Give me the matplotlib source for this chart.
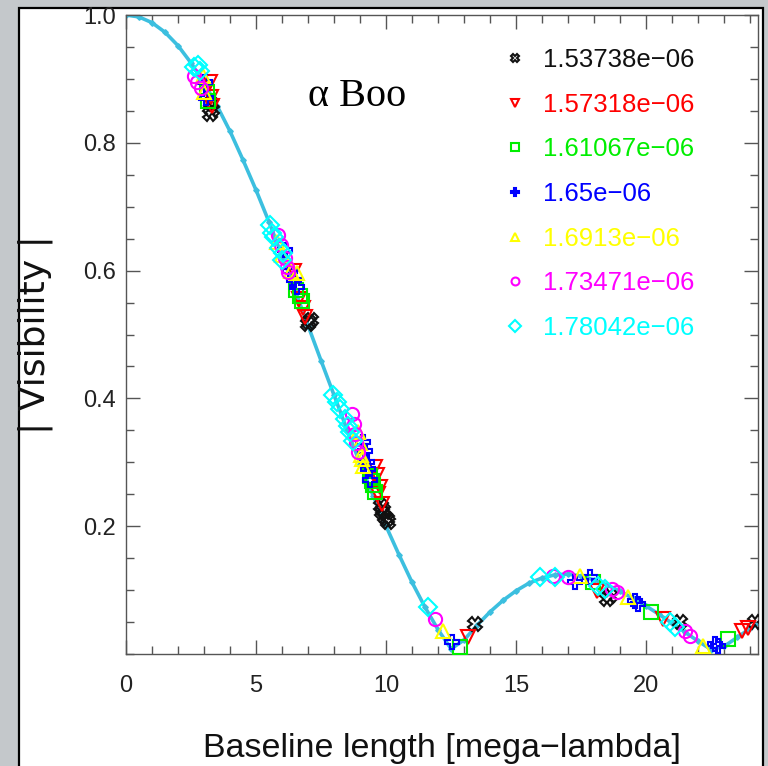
import matplotlib
matplotlib.use("Agg")
import matplotlib.pyplot as plt
from matplotlib.patches import Rectangle
from matplotlib.ticker import MultipleLocator, FixedLocator, FormatStrFormatter

# uniform-disk style model curve, |V| vs baseline (mega-lambda)
model_x = [0.0, 0.5, 1.0, 1.5, 2.0, 2.5, 3.0, 3.5, 4.0, 4.5, 5.0, 5.5, 6.0, 6.5,
           7.0, 7.5, 8.0, 8.5, 9.0, 9.5, 10.0, 10.5, 11.0, 11.5, 12.0, 12.5,
           13.0, 13.5, 14.0, 14.5, 15.0, 15.5, 16.0, 16.5, 17.0, 17.5, 18.0,
           18.5, 19.0, 19.5, 20.0, 20.5, 21.0, 21.5, 22.0, 22.5, 23.0, 23.5,
           24.0, 24.5]
model_v = [1.000, 0.997, 0.988, 0.973, 0.952, 0.925, 0.894, 0.858, 0.818, 0.773,
           0.726, 0.676, 0.623, 0.569, 0.514, 0.459, 0.405, 0.351, 0.298, 0.248,
           0.200, 0.155, 0.112, 0.073, 0.038, 0.008, 0.022, 0.045, 0.066, 0.084,
           0.099, 0.111, 0.119, 0.124, 0.125, 0.122, 0.116, 0.108, 0.098, 0.087,
           0.075, 0.062, 0.048, 0.034, 0.020, 0.007, 0.012, 0.026, 0.040, 0.052]

# measured visibilities per wavelength channel
wavelengths = ["1.53738e\u221206", "1.57318e\u221206", "1.61067e\u221206", "1.65e\u221206",
               "1.6913e\u221206", "1.73471e\u221206", "1.78042e\u221206"]

black_x = [3.22, 3.28, 3.30, 7.00, 7.05, 7.12, 9.80, 9.85, 9.90, 9.95, 10.02, 10.08,
           13.42, 18.50, 18.62, 21.30, 24.20]
black_v = [0.845, 0.862, 0.852, 0.516, 0.520, 0.523, 0.232, 0.222, 0.225, 0.215, 0.212, 0.206,
           0.047, 0.086, 0.090, 0.050, 0.050]

red_x = [3.22, 3.26, 3.32, 6.45, 6.65, 6.80, 6.88, 9.58, 9.65, 9.70, 9.75, 9.85,
         13.15, 18.10, 20.65, 23.70, 23.90]
red_v = [0.895, 0.872, 0.858, 0.600, 0.556, 0.542, 0.528, 0.292, 0.280, 0.250, 0.262, 0.234,
         0.027, 0.098, 0.055, 0.036, 0.040]

green_x = [3.12, 3.15, 6.55, 6.70, 6.75, 9.38, 9.45, 9.50, 9.58, 12.85, 17.96, 20.20, 23.15]
green_v = [0.880, 0.865, 0.570, 0.560, 0.552, 0.278, 0.270, 0.265, 0.253, 0.011, 0.112, 0.066, 0.023]

blue_x = [3.05, 3.08, 6.10, 6.30, 6.45, 6.57, 9.12, 9.18, 9.25, 9.30, 9.38, 12.54,
          17.27, 17.85, 19.58, 19.70, 22.65, 22.75]
blue_v = [0.895, 0.870, 0.633, 0.600, 0.585, 0.575, 0.331, 0.318, 0.300, 0.290, 0.273, 0.019,
          0.112, 0.120, 0.083, 0.078, 0.016, 0.013]

yellow_x = [2.95, 3.00, 5.80, 6.00, 6.35, 6.57, 8.92, 8.98, 9.05, 9.08, 9.12, 12.20,
            17.46, 19.30, 22.20]
yellow_v = [0.905, 0.880, 0.644, 0.625, 0.600, 0.597, 0.347, 0.330, 0.312, 0.305, 0.294, 0.036,
            0.122, 0.089, 0.012]

magenta_x = [2.60, 2.72, 2.90, 5.85, 5.95, 6.10, 6.18, 6.24, 8.69, 8.75, 8.80, 8.85, 8.92,
             11.88, 16.42, 17.00, 18.70, 18.88, 21.50, 21.70]
magenta_v = [0.905, 0.895, 0.886, 0.656, 0.640, 0.620, 0.606, 0.598, 0.375, 0.360, 0.345, 0.330, 0.316,
             0.055, 0.122, 0.120, 0.101, 0.097, 0.036, 0.028]

cyan_x = [2.62, 2.75, 2.85, 5.54, 5.60, 5.70, 5.90, 6.00, 6.05, 7.96, 8.10, 8.23, 8.42,
          8.52, 8.62, 8.73, 11.62, 15.92, 16.50, 18.15, 18.42, 20.92, 21.10]
cyan_v = [0.918, 0.922, 0.912, 0.672, 0.659, 0.652, 0.635, 0.617, 0.628, 0.406, 0.395, 0.383, 0.367,
          0.357, 0.347, 0.333, 0.073, 0.120, 0.120, 0.106, 0.101, 0.050, 0.042]

series_x = [black_x, red_x, green_x, blue_x, yellow_x, magenta_x, cyan_x]
series_v = [black_v, red_v, green_v, blue_v, yellow_v, magenta_v, cyan_v]
colors = ["#111111", "#ff0000", "#00ee00", "#0000ff", "#ffff00", "#ff00ff", "#00ffff"]
markers = ["X", "v", "s", "P", "^", "o", "D"]

plt.rcParams["font.family"] = ["Liberation Sans", "DejaVu Sans"]

fig = plt.figure(figsize=(7.68, 7.66), dpi=100, facecolor="#c4c8cb")
# white panel with black frame
panel = Rectangle((19 / 768, -0.01), (763 - 19) / 768, 1.01 - 8 / 766,
                  transform=fig.transFigure, facecolor="white",
                  edgecolor="black", linewidth=1.6, zorder=-10)
fig.add_artist(panel)

ax = fig.add_axes([126 / 768, (766 - 654) / 766, 632 / 768, 639 / 766])
ax.set_facecolor("white")
ax.set_zorder(1)

ax.plot(model_x, model_v, color="#3cbfdf", lw=2.6, marker="D", ms=2.8, zorder=2)

for xs, vs, c, m, lab in zip(series_x, series_v, colors, markers, wavelengths):
    ax.plot(xs, vs, linestyle="none", marker=m, ms=9.5, mfc="none", mec=c,
            mew=1.5, color=c, label=lab, zorder=3)

ax.set_xlim(0, 24.3)
ax.set_ylim(0, 1.0)
ax.xaxis.set_major_locator(FixedLocator([0, 5, 10, 15, 20]))
ax.xaxis.set_minor_locator(MultipleLocator(1))
ax.yaxis.set_major_locator(FixedLocator([0.2, 0.4, 0.6, 0.8, 1.0]))
ax.yaxis.set_minor_locator(MultipleLocator(0.05))
ax.yaxis.set_major_formatter(FormatStrFormatter("%.1f"))
ax.tick_params(which="both", direction="in", top=True, right=True, color="#555555",
               width=1.0, labelsize=17, labelcolor="#222222")
ax.tick_params(which="major", length=10)
ax.tick_params(which="minor", length=5.5)
ax.tick_params(axis="x", pad=15)
ax.tick_params(axis="y", pad=7)
for s in ax.spines.values():
    s.set_color("#555555")
    s.set_linewidth(1.0)

ax.set_xlabel("Baseline length [mega\u2212lambda]", fontsize=24.5, labelpad=26, color="#111111")
ax.set_ylabel("| Visibility |", family="DejaVu Sans", fontsize=26, labelpad=22, color="#111111")

ax.text(8.9, 0.872, "\u03b1 Boo", family="Liberation Serif", fontsize=29,
        ha="center", va="center", color="black")

leg = ax.legend(loc="upper left", bbox_to_anchor=(0.579, 0.964), frameon=False,
                fontsize=18.5, labelcolor="linecolor", markerscale=0.6,
                handlelength=1.0, handletextpad=0.6, labelspacing=0.80,
                numpoints=1, borderaxespad=0)

fig.savefig("out.png", dpi=100, facecolor=fig.get_facecolor())
